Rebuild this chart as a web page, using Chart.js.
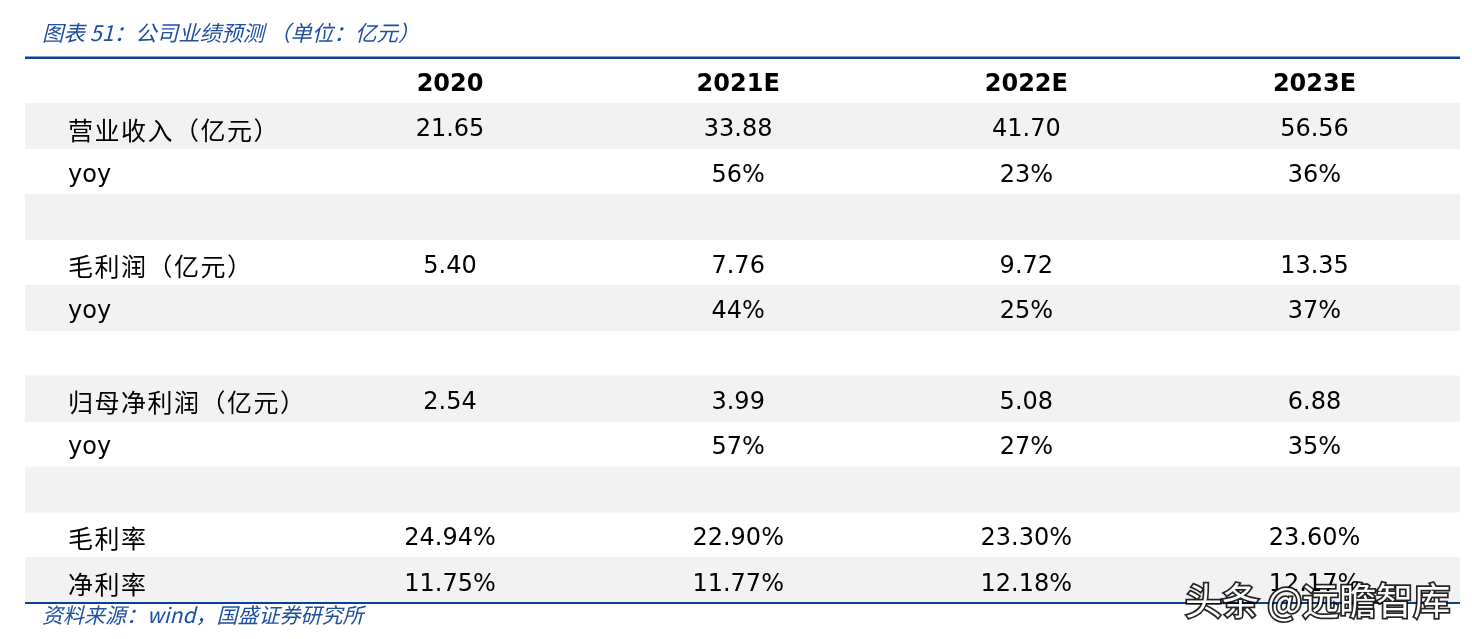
<!DOCTYPE html>
<html>
<head>
<meta charset="utf-8">
<script src="https://cdn.jsdelivr.net/npm/chart.js@4/dist/chart.umd.min.js"></script>
<style>
  html, body { margin: 0; padding: 0; background: #fff; }
  #tableChart { display: block; }
</style>
</head>
<body>
<canvas id="tableChart" width="1472" height="639"></canvas>
<script>
// table content
var columns = ['2020', '2021E', '2022E', '2023E'];
var rowLabels = ['营业收入（亿元）', 'yoy', '', '毛利润（亿元）', 'yoy', '', '归母净利润（亿元）', 'yoy', '', '毛利率', '净利率'];

var revenue = [21.65, 33.88, 41.70, 56.56];
var revenueYoy = [null, 56, 23, 36];
var grossProfit = [5.40, 7.76, 9.72, 13.35];
var grossProfitYoy = [null, 44, 25, 37];
var netProfit = [2.54, 3.99, 5.08, 6.88];
var netProfitYoy = [null, 57, 27, 35];
var grossMargin = [24.94, 22.90, 23.30, 23.60];
var netMargin = [11.75, 11.77, 12.18, 12.17];

var titleText = '图表 51：公司业绩预测 （单位：亿元）';
var sourceText = '资料来源：wind，国盛证券研究所';
var watermarkText = '头条 @远瞻智库';

function num(v) { return v == null ? '' : v.toFixed(2); }
function pct0(v) { return v == null ? '' : v.toFixed(0) + '%'; }
function pct2(v) { return v == null ? '' : v.toFixed(2) + '%'; }

// cell text per row, built from the arrays above
var rowCells = [
    revenue.map(num), revenueYoy.map(pct0), [],
    grossProfit.map(num), grossProfitYoy.map(pct0), [],
    netProfit.map(num), netProfitYoy.map(pct0), [],
    grossMargin.map(pct2), netMargin.map(pct2)
];

var xMin = -0.475, xMax = 4.505;
var yLabels = ['header'].concat(rowLabels);

var blue = '#0a3f96';
var sans = '"DejaVu Sans", Tahoma, sans-serif';
var cjk = '"Noto Sans CJK SC", sans-serif';

var tablePlugin = {
    id: 'tableText',
    afterDatasetsDraw: function (chart) {
        var ctx = chart.ctx;
        var area = chart.chartArea;
        var x = chart.scales.x;
        var y = chart.scales.y;
        ctx.save();

        // title + source
        ctx.fillStyle = '#1f4fa0';
        ctx.textBaseline = 'middle';
        ctx.textAlign = 'left';
        ctx.font = 'italic 21.5px ' + cjk;
        ctx.fillText(titleText, 42, 33);
        ctx.font = 'italic 21px ' + cjk;
        ctx.fillText(sourceText, 42, 615);

        // rules
        ctx.fillStyle = blue;
        ctx.fillRect(area.left, area.top - 1.5, area.right - area.left, 2.5);
        ctx.fillRect(area.left, area.bottom - 1, area.right - area.left, 2);

        // header
        ctx.fillStyle = '#000';
        ctx.textAlign = 'center';
        ctx.font = 'bold 24px ' + sans;
        columns.forEach(function (c, i) {
            ctx.fillText(c, x.getPixelForValue(i + 1), y.getPixelForValue(0) + 4);
        });

        // rows
        rowLabels.forEach(function (label, r) {
            var py = y.getPixelForValue(r + 1) + 4;
            ctx.textAlign = 'left';
            if (label === 'yoy') {
                ctx.font = '24px ' + sans;
                ctx.letterSpacing = '0px';
            } else {
                ctx.font = '25px ' + cjk;
                ctx.letterSpacing = '1.5px';
            }
            ctx.fillText(label, area.left + 43, py);
            ctx.letterSpacing = '0px';
            ctx.textAlign = 'center';
            ctx.font = '24px ' + sans;
            (rowCells[r] || []).forEach(function (t, i) {
                ctx.fillText(t, x.getPixelForValue(i + 1), py);
            });
        });

        // watermark
        ctx.textAlign = 'left';
        ctx.font = '37px ' + cjk;
        ctx.lineWidth = 3.5;
        ctx.strokeStyle = 'rgba(0,0,0,0.85)';
        ctx.strokeText(watermarkText, 1185, 601);
        ctx.fillStyle = '#fff';
        ctx.fillText(watermarkText, 1185, 601);

        ctx.restore();
    }
};

var ctx = document.getElementById('tableChart').getContext('2d');
window.tableChart = new Chart(ctx, {
    type: 'bar',
    data: {
        labels: yLabels,
        datasets: [{
            label: 'bands',
            data: yLabels.map(function (_, i) { return i % 2 === 1 ? [xMin, xMax] : null; }),
            backgroundColor: '#f2f2f2',
            borderWidth: 0,
            barPercentage: 1,
            categoryPercentage: 1
        }]
    },
    options: {
        indexAxis: 'y',
        responsive: false,
        animation: false,
        devicePixelRatio: 1,
        layout: { padding: { left: 25, right: 12, top: 58, bottom: 36 } },
        plugins: { legend: { display: false }, tooltip: { enabled: false } },
        scales: {
            x: { type: 'linear', min: xMin, max: xMax, display: false },
            y: { type: 'category', offset: true, display: false }
        }
    },
    plugins: [tablePlugin]
});
</script>
</body>
</html>
